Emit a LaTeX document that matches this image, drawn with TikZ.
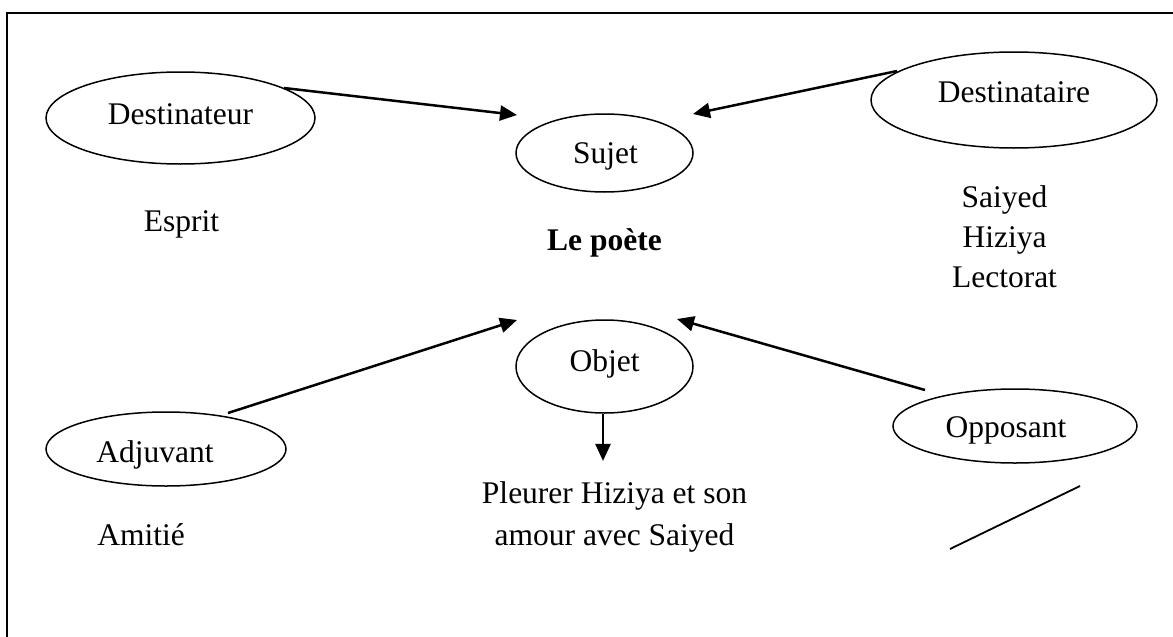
\documentclass[tikz,border=0pt]{standalone}
\usepackage{fontspec}
\setmainfont{Liberation Serif}
\usetikzlibrary{shapes.geometric,arrows.meta}

\tikzset{
  actant/.style={ellipse, draw, line width=1.5pt, inner sep=0pt, text height=22pt},
  caption/.style={anchor=base, inner sep=0pt, align=center},
  link/.style={line width=2.5pt, -{Triangle[length=17pt,width=15pt]}},
}

\begin{document}
\begin{tikzpicture}[x=1pt, y=-1pt, font=\fontsize{31.5}{41}\selectfont]
  \useasboundingbox (0,0) rectangle (1173,637);

  % page frame (top and left edges)
  \draw[line width=2pt] (7,637) -- (7,12.5) -- (1173,12.5);

  % actants
  \node[actant, minimum width=269pt, minimum height=92pt, text depth=10pt]
    (destinateur) at (180.5,118) {Destinateur};
  \node[actant, minimum width=177pt, minimum height=78pt, text depth=2pt]
    (sujet) at (604.5,153) {\hspace*{2pt}Sujet};
  \node[actant, minimum width=286pt, minimum height=96pt, text depth=18pt]
    (destinataire) at (1014,100) {Destinataire};
  \node[actant, minimum width=240pt, minimum height=74pt, text height=30pt, text depth=4pt]
    (adjuvant) at (166,449) {Adjuvant\hspace*{22pt}};
  \node[actant, minimum width=177pt, minimum height=93pt, text depth=13pt]
    (objet) at (604.5,366.5) {Objet};
  \node[actant, minimum width=244pt, minimum height=74pt, text depth=0pt]
    (opposant) at (1015,426) {Opposant\hspace*{18pt}};

  % values of the actants (multi-line texts sit on their last baseline)
  \node[caption] (esprit) at (181.5,231) {Esprit};
  \node[caption] (poete) at (604.5,250) {\bfseries Le poète};
  \node[caption] (lecteurs) at (1004.5,287) {Saiyed\\[-1pt]Hiziya\\[-1pt]Lectorat};
  \node[caption] (amitie) at (141,545) {Amitié};
  \node[caption] (pleurer) at (614.5,545) {Pleurer Hiziya et son\\[1pt]amour avec Saiyed};

  % connectors
  \draw[link] ([shift={(103.5,-30)}]destinateur.center) -- ([shift={(-87.5,-38)}]sujet.center);
  \draw[link] ([shift={(-117,-29)}]destinataire.center) -- ([shift={(88.5,-39)}]sujet.center);
  \draw[link] ([shift={(62,-36)}]adjuvant.center) -- ([shift={(-87.5,-46.5)}]objet.center);
  \draw[link] ([shift={(-90,-36)}]opposant.center) -- ([shift={(72.5,-47.5)}]objet.center);
  \draw[link] ([xshift=-1.5pt]objet.south) -- ([xshift=-1.5pt,yshift=20pt]objet.south |- pleurer.north);

  % stroke under the opposant
  \coordinate (barA) at (1080,486);
  \coordinate (barB) at (950,549);
  \draw[line width=1.8pt] (barA) -- (barB);
\end{tikzpicture}
\end{document}
